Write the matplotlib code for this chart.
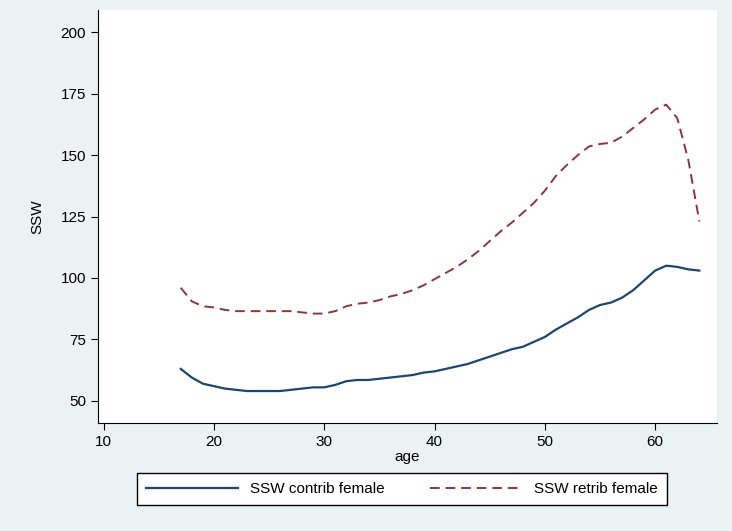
import matplotlib
matplotlib.use("Agg")
import matplotlib.pyplot as plt

ages = list(range(17, 65))
ssw_contrib = [63, 59.5, 57, 56, 55, 54.5, 54, 54, 54, 54, 54.5, 55, 55.5, 55.5, 56.5, 58,
               58.5, 58.5, 59, 59.5, 60, 60.5, 61.5, 62, 63, 64, 65, 66.5, 68, 69.5, 71, 72,
               74, 76, 79, 81.5, 84, 87, 89, 90, 92, 95, 99, 103, 105, 104.5, 103.5, 103]
ssw_retrib = [96, 90.5, 88.5, 88, 87, 86.5, 86.5, 86.5, 86.5, 86.5, 86.5, 86, 85.5, 85.5, 86.5, 88.5,
              89.5, 90, 91, 92.5, 93.5, 95, 97, 99.5, 102, 104.5, 107.5, 111, 115, 119, 122.5, 126.5,
              130.5, 135.5, 141.5, 146, 150, 153.5, 154.5, 155, 157.5, 161, 164.5, 168.5, 170.5, 165, 148, 123]

plt.rcParams['font.family'] = ['Liberation Sans', 'DejaVu Sans']
fig = plt.figure(figsize=(7.32, 5.31), dpi=100, facecolor='#eaf2f3')
ax = fig.add_axes([98/732, 1-423/531, 619/732, 413/531])
ax.plot(ages, ssw_contrib, color='#1a476f', lw=1.6, label='SSW contrib female')
ax.plot(ages, ssw_retrib, color='#90353b', lw=1.4, ls=(0, (5, 3)), label='SSW retrib female')
ax.set_xlim(9.5, 65.6)
ax.set_ylim(41, 209)
ax.set_xticks([10, 20, 30, 40, 50, 60])
ax.set_yticks([50, 75, 100, 125, 150, 175, 200])
ax.tick_params(labelsize=11, direction='out', length=5)
for s in ['top', 'right']:
    ax.spines[s].set_visible(False)
ax.set_xlabel('age', fontsize=11, labelpad=1)
ax.set_ylabel('SSW', fontsize=11, labelpad=12)
leg = fig.legend(loc='center', bbox_to_anchor=(402/732, 1-489/531), ncol=2, frameon=True,
                 fancybox=False, edgecolor='black', facecolor='white', framealpha=1,
                 fontsize=11, handlelength=6, columnspacing=3, borderpad=0.6)
fig.savefig('out.png', dpi=100, facecolor=fig.get_facecolor())
